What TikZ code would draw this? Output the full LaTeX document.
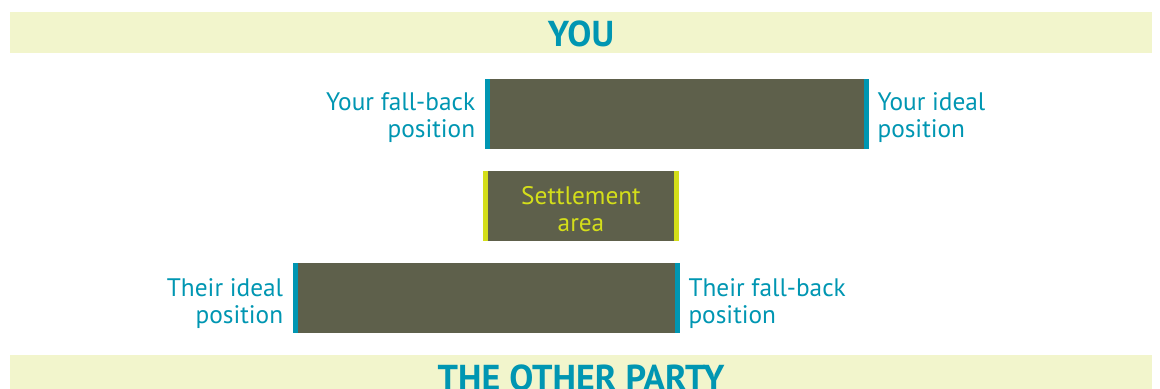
\documentclass[tikz,border=0pt]{standalone}
\usepackage{fontspec}
\setmainfont{PT Sans}
\begin{document}
\begin{tikzpicture}[x=0.75pt,y=-0.75pt,
  band/.style={fill=bandfill,draw=none},
  bar/.style={fill=barfill,draw=none,minimum height=52.5pt,inner sep=0pt},
  lbl/.style={text=teal0,font=\fontsize{19}{20.25}\selectfont,inner sep=0pt},
  head/.style={text=teal0,font=\fontsize{27}{30}\selectfont\bfseries,inner sep=0pt}]
\definecolor{bandfill}{HTML}{F2F5CC}
\definecolor{barfill}{HTML}{5E604B}
\definecolor{teal0}{HTML}{0096B2}
\definecolor{lime0}{HTML}{D4DE1A}
\useasboundingbox (0,0) rectangle (1160,389);
% header bands
\fill[bandfill] (10,12) rectangle (1152,53);
\fill[bandfill] (10,355) rectangle (1152,389);
\node[head,anchor=base] (you) at (581,46) {YOU};
\node[head,anchor=base] (other) at (581,390) {THE OTHER PARTY};
% your range
\node[bar,minimum width=288pt] (yours) at (677,114) {};
\fill[teal0] (yours.north west) rectangle ([xshift=3.75pt]yours.south west);
\fill[teal0] (yours.north east) rectangle ([xshift=-3.75pt]yours.south east);
% settlement area
\node[bar,minimum width=147pt] (settle) at (581,206) {};
\fill[lime0] (settle.north west) rectangle ([xshift=3.75pt]settle.south west);
\fill[lime0] (settle.north east) rectangle ([xshift=-3.75pt]settle.south east);
\node[lbl,text=lime0,align=center] (settletxt) at ([yshift=-2.5pt]settle.center) {Settlement\\area};
% their range
\node[bar,minimum width=290.25pt] (theirs) at (486.5,298) {};
\fill[teal0] (theirs.north west) rectangle ([xshift=3.75pt]theirs.south west);
\fill[teal0] (theirs.north east) rectangle ([xshift=-3.75pt]theirs.south east);
% position labels
\node[lbl,align=right,anchor=east] (yfb) at ([xshift=-7pt,yshift=-3pt]yours.west) {Your fall-back\\position};
\node[lbl,align=left,anchor=west] (yid) at ([xshift=6pt,yshift=-3pt]yours.east) {Your ideal\\position};
\node[lbl,align=right,anchor=east] (tid) at ([xshift=-7pt,yshift=-4pt]theirs.west) {Their ideal\\position};
\node[lbl,align=left,anchor=west] (tfb) at ([xshift=6pt,yshift=-4pt]theirs.east) {Their fall-back\\position};
\end{tikzpicture}
\end{document}
